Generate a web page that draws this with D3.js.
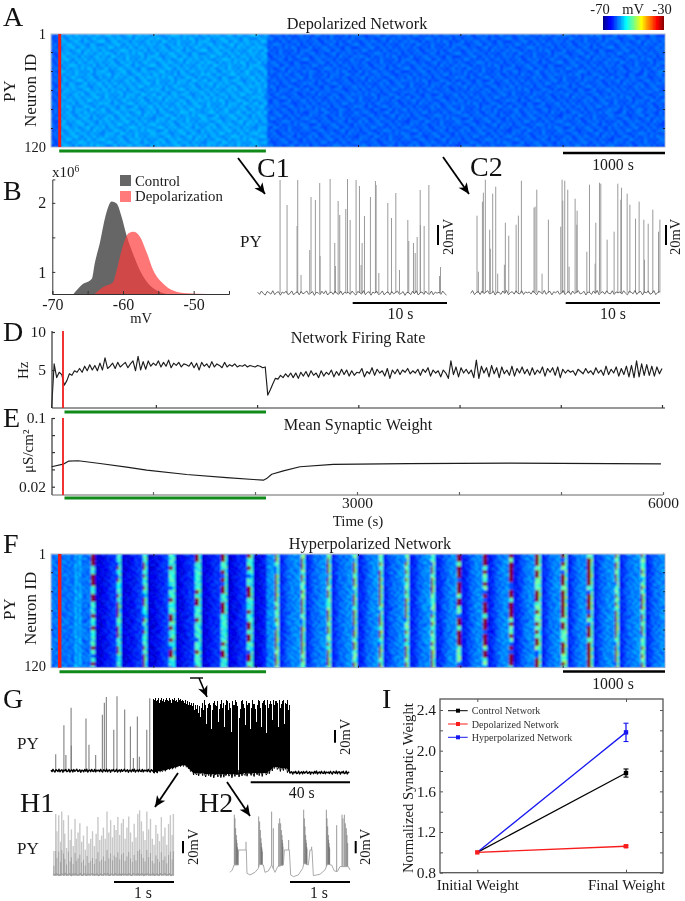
<!DOCTYPE html>
<html><head><meta charset="utf-8">
<script src="https://cdn.jsdelivr.net/npm/d3@7/dist/d3.min.js"></script>
<style>html,body{margin:0;padding:0;background:#fff}svg{display:block;filter:blur(.3px)}</style>
</head><body><svg id="chart" width="685" height="901"></svg>
<script>
// ---------- data ----------
const colorbarStops = [-70,-65.6,-65,-55,-45,-35,-30];
const colorbarColors = ["#00008f","#0000ff","#0000ff","#00ffff","#ffff00","#ff0000","#800000"];
const colorbarLabels = ["-70","mV","-30"];
const timeTicks = [0,1000,2000,3000,4000,5000,6000];
const neuronTicks = [1,20,40,60,80,100,120];
const stimOnset = 85, stimOffset = 2100;
// Panel A: mean membrane potential per epoch
const depolEpochStart = [0,85,2100];
const depolEpochMv = [-61.6,-58.9,-61.4];
// grain of the raster (tenths of a unit), read as a repeating speckle
const speckle = [
[3,-5,7,-2,-8,4,1,-6,9,-3,2,-7,5,0,-4,8,-1],
[-6,2,-1,8,-4,-9,6,3,-2,7,-5,4,-8,1,9,-3,0],
[5,-8,4,0,7,-3,-6,2,8,-1,-9,6,3,-7,-2,4,9],
[-2,9,-7,3,-5,6,8,-4,0,5,1,-3,-9,7,2,-6,-8],
[7,1,-3,-9,2,-1,5,9,-7,-4,8,0,-5,3,6,-2,4],
[-4,6,8,-5,0,3,-8,-2,4,9,-6,-1,7,-3,5,1,-7],
[1,-9,2,6,-3,7,4,-5,-1,3,-8,9,-2,5,-6,0,8],
[9,-3,-6,4,8,-7,0,5,2,-9,6,-4,1,-8,3,7,-5],
[-7,4,0,-2,5,9,-1,-8,6,1,-3,8,-6,2,-4,5,3],
[2,-5,9,7,-6,1,-4,3,-9,8,0,-7,4,6,-1,-3,5],
[6,0,-4,-8,3,-2,9,7,5,-6,4,2,-1,-5,8,-9,1],
[-3,8,5,1,-9,6,-7,0,3,-2,7,-5,9,4,-8,2,-6],
[4,-1,-8,9,6,-5,2,-3,7,0,-4,1,-6,8,-7,3,5]];
// Panel F: population burst times (s) and recovery of the mean potential between bursts
const hyperBursts = [404,652,909,1170,1424,1678,1932,2189,2444,2702,2962,3209,3470,3724,3981,4235,4489,4747,4999,5254,5512,5766];
const earlyEvents = [225,283];
const recoveryStim = [-67,-67,-66.5,-66,-65.5,-65,-64.5,-64,-63.5,-63];
const recoveryPost = [-65,-64.5,-63.5,-62.5,-61.5,-61,-60.5,-60,-60,-59.5];
// Panel B
const histControlMv = [-67,-65.85,-64.4,-64,-63.25,-62.5,-61.6,-60.9,-60.2,-59.5,-58.5,-57.6,-56.4,-55.2,-53.8];
const histControl = [.68,.81,.90,1.12,1.43,1.8,2.02,1.99,1.8,1.53,1.24,1.02,.83,.73,.68];
const histDepolMv = [-64,-62.8,-61.4,-60.9,-60.2,-59.2,-58.5,-57.6,-56.6,-55.7,-54.3,-52.9,-51,-48,-45.3];
const histDepol = [.68,.78,.85,1.02,1.31,1.56,1.58,1.51,1.27,1.02,.83,.73,.69,.68,.68];
const histMvTicks = [-70,-65,-60,-55,-50,-45];
const histCountTicks = [1,1.5,2];
// Panels C1, C2: spike times (s) and amplitudes (mV)
const c1Times = [2.37,3.11,4.24,4.17,4.59,5.51,5.65,6.11,6.57,6.61,7.67,8.16,8.52,8.69,8.23,9.33,9.51,9.79,10.42,10.78,11.06,10.95,11.31,11.94,12.47,12.54,12.83,13.78,14.17,14.63,15.02,15.9,16.0,16.5,16.68,16.89,17.21,17.24,17.63,18.13,19.26,19.36];
const c1Mv = [113,88,113,67,18,43,96,93,110,37,114,50,92,78,27,84,114,73,113,107,50,28,77,96,112,108,20,90,75,100,23,73,52,50,40,56,103,68,67,108,17,26];
const c2Times = [.67,.81,1.24,1.34,1.55,2.01,2.08,2.33,2.65,2.86,3.57,3.67,4.03,4.81,5.05,5.37,6.71,6.82,7.0,7.56,8.23,9.54,9.68,9.75,9.96,10.28,10.42,11.06,11.24,11.27,12.3,12.58,13.18,13.25,13.64,13.78,14.45,15.19,15.58,15.9,15.97,16.57,16.86,17.46,17.84,18.34,18.41,18.8,19.29,19.89,20.04];
const c2Mv = [77,21,91,100,113,63,44,99,106,19,28,70,57,68,77,112,85,86,103,19,73,66,113,92,112,103,26,94,68,82,41,108,29,70,110,109,53,61,109,93,105,99,88,74,91,73,33,69,83,61,73];
const restingNoise = [1.2,-2.1,3,-.8,-3.2,2.4,.6,-1.7,3.5,-2.6,.9,2,-3.4,1.5,-.4,2.8,-2.3,-1,3.2,-3,.3,1.8,-2.8,2.5,-1.4,.7,3.1,-2,-.6,2.2,-3.6,1,.4,-2.5,2.7,-1.2,3.4,-3.1,.2,1.6,-2.2,2.9,-.9,-1.9,3,-2.7,1.3,-.3];
// Panel D: network firing rate (Hz), evenly spaced over the recording
const firingRate = [0,5.8,4.0,4.7,4.4,3.0,3.6,4.5,4.3,4.9,
4.7,5.2,4.7,5.5,4.9,5.7,5.0,5.6,4.9,5.9,
5.0,6.6,5.2,5.5,5.9,5.2,6.0,5.4,5.7,6.0,
5.3,5.8,6.2,4.9,6.8,5.0,6.1,5.1,6.2,5.5,
5.9,5.6,6.2,5.4,6.0,5.5,6.3,5.3,5.9,5.6,
6.0,5.4,5.8,5.7,5.5,6.0,5.3,5.9,5.0,6.0,
5.5,5.8,5.3,6.1,5.4,5.8,5.6,5.3,6.0,5.4,
5.7,5.5,5.8,5.4,5.6,5.5,5.7,5.4,5.6,5.5,
5.4,5.6,5.5,5.3,5.4,
1.7,2.4,3.2,3.9,3.8,4.3,4.0,4.5,4.1,4.6,4.0,4.6,3.9,4.7,4.2,4.8,4.1,4.9,4.3,4.6,4.0,4.9,4.2,4.7,4.4,5.0,4.1,4.8,4.3,5.1,
4.4,5.0,4.2,4.9,4.3,4.7,4.6,5.2,4.1,4.8,
4.5,5.3,4.3,5.1,4.6,4.9,4.2,5.2,3.9,5.0,
4.5,5.1,4.4,5.0,4.7,5.2,4.5,4.9,4.6,5.1,
4.3,5.1,4.7,5.3,4.2,5.0,4.6,4.9,4.1,5.0,
4.6,3.9,6.2,4.4,5.4,4.1,5.3,4.6,5.1,4.5,
5.0,4.0,6.3,3.9,5.5,4.6,5.3,4.1,5.6,4.5,
5.3,4.0,5.4,4.5,5.0,4.3,5.5,4.2,5.2,4.6,
5.4,4.5,5.1,4.3,5.3,4.4,5.0,4.6,5.4,4.2,
5.2,4.7,5.3,4.3,5.4,4.0,5.1,4.6,5.0,4.7,
4.9,4.3,5.1,4.8,4.5,5.2,4.6,4.9,4.4,5.3,
4.6,5.0,4.3,5.5,4.4,5.1,4.6,5.4,4.2,5.2,
4.4,5.5,4.1,5.6,4.0,6.2,4.1,5.8,4.3,5.7,
4.3,5.5,4.2,5.4,4.5,5.2];
// Panel E: mean synaptic weight
const weightTimes = [6,120,170,268,480,742,938,1330,1722,2082,2114,2164,2278,2441,2768,3500,4500,5980];
const weightValues = [.0319,.0339,.0364,.0367,.0344,.0316,.0295,.0266,.0247,.0233,.0242,.0268,.029,.0319,.0337,.0344,.0347,.0341];
const weightTicks = [.1,.067,.045,.03,.02];
// Panel G
const gSpikeTimes = [1.9,5.2,6.0,8.1,8.2,14.1,15.3,18,20.7,21.5,22.3,25.3,26.6,29.7,32,33.2,34.8,35.6,38.6,39.8];
const gSpikeMv = [26,72,25,100,40,83,41,25,89,108,117,65,118,97,70,20,86,22,65,115];
const gBurstTop = [114,112,115,110,113,116,108,112,115,111,114,109,113,116,112,110,115,113,108,114,112,116,111,113,109,115,112,114,110,113,111,108,112,106,110,105,109,104,108,102,107,96,105,
98,104,92,103,86,100,108,96,112,104,74,100,106,108,104,66,96,108,110,104,102,110,78,98,106,112,100,108,70,104,112,110,96,108,100,62,110,104,105,112,109,102,84,98,110,112,106,100,72,110,104,108,108,66,100,112,106,106,98,78,104,112,110,100,70,108,110,112,104,60,112,100,106,110,106,80,112,104,110,110,108,70,112,100,106,110,112,74,108,106,112,96,104];
const gBurstEnvT = [41.2,46.6,54,55.4,57.4,66.8,73.5,87,89.7,95,96.1];
const gBurstEnvMv = [-3,2,10,4,-3,-6,-5,-3,6,4,-3];
// Panel H1
const h1Times = [.01,.04,.06,.09,.12,.14,.17,.19,.22,.25,.28,.30,.33,.36,.38,.41,.44,.47,.50,.53,.56,.59,.62,.65,.68,.71,.74,.77,.80,.83,.86,.89,.92,.95,.98,1.01,1.04,1.07,1.10,1.13,1.16,1.19,1.22,1.25,1.28,1.31,1.34,1.37,1.40,1.43,1.46,1.49,1.52,1.55,1.58,1.61,1.64,1.67,1.70,1.73,1.76,1.79,1.82,1.85,1.88,1.91,1.94,1.97,1.99];
const h1Mv = [40,100,72,98,55,104,90,68,45,98,58,75,48,92,60,70,85,55,65,42,80,52,60,72,48,68,95,58,65,78,60,104,70,90,62,82,74,95,66,85,92,60,78,96,70,55,84,62,100,106,88,72,58,104,75,92,60,50,82,68,56,95,64,78,50,84,98,66,100];
// Panel H2
const h2SlowT = [0,.039,.067,.139,.144,.272,.283,.333,.417,.472,.489,.556,.583,.639,.694,.75,.794,.889,.906,.989,1.011,1.056,1.139,1.211,1.233,1.306,1.333,1.367,1.389,1.5,1.583,1.622,1.694,1.739,1.789,1.833,1.972,2];
const h2SlowMv = [1.6,5.4,13.5,13.5,37.8,37.8,0,-2.7,1.6,8,14.6,13.5,1.6,3.8,13.5,1.6,10.8,13.5,37.8,37.8,-2.7,-5.4,-2.7,8,16.2,13.5,37.8,37.8,-3.8,-1.6,5.4,14.6,13.5,3.8,2.7,10.8,10.8,5.4];
const h2SpikeT = [.072,.083,.094,.106,.111,.117,.122,.128,.133,.267,
.478,.494,.506,.517,.522,.528,.533,.539,.694,.722,
.811,.828,.844,.856,.867,.872,.878,.883,.978,
1.228,1.239,1.25,1.261,1.267,1.272,1.278,1.283,1.361,
1.606,1.617,1.628,1.639,1.644,1.65,1.656,1.661,1.778,
1.867,1.883,1.906,1.922,1.939,1.95,1.961];
const h2SpikeMv = [95,89,73,62,54,49,43,40,38,51,
92,84,70,57,49,43,40,35,100,73,
81,89,81,70,62,54,49,43,54,
103,89,76,62,54,49,43,40,43,
103,89,76,62,54,49,43,40,78,
95,89,95,81,73,62,49];
// Panel I
const seriesNames = ["Control Network","Depolarized Network","Hyperpolarized Network"];
const seriesColors = ["#000000","#f81c1c","#1818f0"];
const weightCategories = ["Initial Weight","Final Weight"];
const initialWeights = [1,1,1];
const finalWeights = [1.78,1.06,2.18];
const finalErrors = [.04,.01,.09];
const normWeightTicks = [.8,1,1.2,1.4,1.6,1.8,2,2.2,2.4];

// ---------- helpers ----------
const FONT = "'Liberation Serif','Times New Roman',serif";
const INK = "#1a1a1a", RED = "#f01c1c", GREEN = "#108a18";
const svg = d3.select("#chart").attr("font-family", FONT);
const defs = svg.append("defs");
defs.append("filter").attr("id","soft").attr("x","-2%").attr("y","-3%").attr("width","104%").attr("height","106%")
  .append("feGaussianBlur").attr("stdDeviation",.85);
const head = defs.append("marker").attr("id","head").attr("viewBox","-12 -6 13 12").attr("refX",0).attr("refY",0)
  .attr("markerWidth",13).attr("markerHeight",12).attr("markerUnits","userSpaceOnUse").attr("orient","auto");
head.append("path").attr("d","M0,0L-11,-5L-8,0L-11,5Z").attr("fill","#000");

function text(x,y,s,size,o={}){
  const t = svg.append("text").attr("font-size",size).attr("fill",o.fill||INK).attr("text-anchor",o.anchor||"start");
  if(o.rotate){ t.attr("transform",`translate(${x},${y}) rotate(-90)`); } else { t.attr("x",x).attr("y",y); }
  t.text(s); return t;
}
function seg(x1,y1,x2,y2,color,w,arrow){
  const l = svg.append("line").attr("x1",x1).attr("y1",y1).attr("x2",x2).attr("y2",y2).attr("stroke",color).attr("stroke-width",w);
  if(arrow) l.attr("marker-end","url(#head)");
  return l;
}
function styleAxis(g,color,w){
  g.selectAll("path.domain").attr("stroke",color).attr("stroke-width",w);
  g.selectAll(".tick line").attr("stroke",color).attr("stroke-width",w);
  g.selectAll(".tick text").attr("font-family",FONT).attr("fill",INK);
  return g;
}
const heat = d3.scaleLinear().domain(colorbarStops).range(colorbarColors).clamp(true);
const grain = (r,c) => speckle[(r + 5*Math.floor(c/17)) % 13][(c + 7*Math.floor(r/13)) % 17];

function raster(id, top, bottom, cols, rows, valueFn){
  const x = d3.scaleLinear([0,6000],[51,665]);
  const y = d3.scaleLinear([1,120],[top,bottom]);
  const binT = 6000/cols, binN = 119/rows;
  const cells = [];
  for(let r=0;r<rows;r++) for(let c=0;c<cols;c++) cells.push({r,c,t:c*binT,n:1+r*binN});
  const clip = defs.append("clipPath").attr("id","clip"+id);
  clip.append("rect").attr("x",51).attr("y",top).attr("width",614).attr("height",bottom-top);
  svg.append("g").attr("clip-path",`url(#clip${id})`)
    .append("g").attr("filter","url(#soft)").attr("shape-rendering","crispEdges")
    .selectAll("rect").data(cells).join("rect")
      .attr("x",d=>x(d.t)).attr("y",d=>y(d.n))
      .attr("width",x(binT)-x(0)+.6).attr("height",y(1+binN)-y(1)+.6)
      .attr("fill",d=>heat(valueFn(d)));
  svg.append("rect").attr("x",51).attr("y",top).attr("width",614).attr("height",bottom-top)
    .attr("fill","none").attr("stroke","#8fa6c8").attr("stroke-width",.8);
  const bx = svg.append("g").attr("transform",`translate(0,${bottom})`)
    .call(d3.axisBottom(x).tickValues(timeTicks.slice(1,6)).tickSize(-2).tickFormat(""));
  bx.select(".domain").remove(); bx.selectAll("line").attr("stroke","#223");
  const tx = svg.append("g").attr("transform",`translate(0,${top})`)
    .call(d3.axisTop(x).tickValues(timeTicks.slice(1,6)).tickSize(-2).tickFormat(""));
  tx.select(".domain").remove(); tx.selectAll("line").attr("stroke","#223");
  const ly = svg.append("g").attr("transform","translate(51,0)")
    .call(d3.axisLeft(y).tickValues(neuronTicks.slice(1,6)).tickSize(-2).tickFormat(""));
  ly.select(".domain").remove(); ly.selectAll("line").attr("stroke","#223");
  const ry = svg.append("g").attr("transform","translate(665,0)")
    .call(d3.axisRight(y).tickValues(neuronTicks.slice(1,6)).tickSize(-2).tickFormat(""));
  ry.select(".domain").remove(); ry.selectAll("line").attr("stroke","#223");
  return x;
}
function spikes(times, mv, x, y, color, w, base, crisp){
  svg.append("g").attr("shape-rendering",crisp?"crispEdges":"auto").selectAll("line").data(times.map((t,i)=>[t,mv[i]])).join("line")
    .attr("x1",d=>x(d[0])).attr("x2",d=>x(d[0])).attr("y1",d=>y(base?base(d[0]):0)).attr("y2",d=>y(d[1]))
    .attr("stroke",color).attr("stroke-width",w);
}
function tracePath(pts, x, y, color, w){
  svg.append("path").datum(pts).attr("fill","none").attr("stroke",color).attr("stroke-width",w)
    .attr("stroke-linejoin","round").attr("d",d3.line().x(d=>x(d[0])).y(d=>y(d[1])));
}

// ---------- panel letters ----------
[["A",3,26],["B",3,200],["C1",257,177],["C2",470,176],["D",3,341],["E",3,427],["F",3,553],["G",3,708],["H1",20,812],["H2",199,812],["I",382,708]]
  .forEach(d=>text(d[1],d[2],d[0],28,{fill:"#111"}));

// ---------- A ----------
text(357,29,"Depolarized Network",16.3,{anchor:"middle"});
const depolBand = d3.scaleThreshold().domain(depolEpochStart.slice(1)).range(depolEpochMv);
const xA = raster("A",34,147,205,38,d=>depolBand(d.t)+grain(d.r,d.c)*.17);
seg(xA(stimOnset),34,xA(stimOnset),147,RED,3);
seg(xA(stimOnset)-.5,151,xA(stimOffset),151,GREEN,3);
text(46,39,"1",14.5,{anchor:"end"}); text(46,152,"120",14.5,{anchor:"end"});
text(15,102,"PY",17,{rotate:true}); text(36,127,"Neuron ID",17,{rotate:true});
const cbX = d3.scaleLinear([-70,-30],[603,664]);
svg.append("g").attr("shape-rendering","crispEdges").selectAll("rect").data(d3.range(-70,-30,.5)).join("rect")
  .attr("x",d=>cbX(d)).attr("y",16).attr("width",cbX(.5)-cbX(0)+.4).attr("height",14).attr("fill",d=>heat(d));
text(600,14,colorbarLabels[0],14.5,{anchor:"middle"});
text(633,14,colorbarLabels[1],14.5,{anchor:"middle"});
text(662,14,colorbarLabels[2],14.5,{anchor:"middle"});
seg(563,153,665,153,"#000",2.4);
text(613,170,"1000 s",15.8,{anchor:"middle"});
seg(238,158,265,194,"#000",1.8,true);
seg(443,157,469,194,"#000",1.8,true);

// ---------- B ----------
const xB = d3.scaleLinear([-70,-45],[52.3,229]);
const yB = d3.scaleLinear([.68,2.34],[294,179.4]);
const areaB = d3.area().x(d=>xB(d[0])).y0(yB(.68)).y1(d=>yB(d[1])).curve(d3.curveMonotoneX);
svg.append("path").datum(histControlMv.map((m,i)=>[m,histControl[i]])).attr("d",areaB).attr("fill","#666666");
svg.append("path").datum(histDepolMv.map((m,i)=>[m,histDepol[i]])).attr("d",areaB).attr("fill","#ff3c3c").attr("opacity",.7);
const axBx = svg.append("g").attr("transform","translate(0,294)")
  .call(d3.axisBottom(xB).tickValues(histMvTicks).tickSize(-3).tickPadding(5).tickFormat(d=>d%10===0?d:""));
styleAxis(axBx,"#333",1).selectAll("text").attr("font-size",16);
const axBy = svg.append("g").attr("transform","translate(52.3,0)")
  .call(d3.axisLeft(yB).tickValues(histCountTicks).tickSize(-3).tickPadding(6).tickFormat(d=>d%1===0?d:""));
styleAxis(axBy,"#333",1).selectAll("text").attr("font-size",16);
text(52,177,"x10",15).append("tspan").attr("dy",-5).attr("font-size",9.5).text("6");
text(141,323,"mV",14.5,{anchor:"middle"});
svg.append("rect").attr("x",120).attr("y",175).attr("width",11).attr("height",11).attr("fill","#666");
svg.append("rect").attr("x",120).attr("y",191).attr("width",11).attr("height",11).attr("fill","#ff7b7b");
text(135,186,"Control",14.8); text(135,201,"Depolarization",14.8);

// ---------- C1 / C2 ----------
const yC1 = d3.scaleLinear([0,100],[293,193]), yC2 = d3.scaleLinear([0,100],[292.7,192.7]);
const xC1 = d3.scaleLinear([0,20.05],[257.7,447]), xC2 = d3.scaleLinear([0,20.05],[470.7,660]);
spikes(c1Times,c1Mv,xC1,yC1,"#9a9a9a",1);
spikes(c2Times,c2Mv,xC2,yC2,"#9a9a9a",1);
const cStep = d3.range(0,20.05,.2);
tracePath(cStep.map((t,i)=>[t,restingNoise[i%48]*.65]),xC1,yC1,"#4a4a4a",.8);
tracePath(cStep.map((t,i)=>[t,restingNoise[(i+17)%48]*.65]),xC2,yC2,"#4a4a4a",.8);
text(240,247,"PY",17);
seg(352.7,303,447,303,"#000",2); seg(565.7,303,660,303,"#000",2);
text(400.5,319,"10 s",15.8,{anchor:"middle"}); text(613,319,"10 s",15.8,{anchor:"middle"});
seg(438,225,438,245,"#000",2); seg(666,225,666,245,"#000",2);
text(453,255,"20mV",14.5,{rotate:true}); text(680,255,"20mV",14.5,{rotate:true});

// ---------- D ----------
const xD = d3.scaleLinear([-30,6000],[51.6,662]);
const yD = d3.scaleLinear([0,10],[408,332]);
const stepD = 6030/(firingRate.length-1);
tracePath(firingRate.map((v,i)=>[-30+i*stepD,v]),xD,yD,"#1c1c1c",1.15);
const axDy = svg.append("g").attr("transform","translate(52,0)")
  .call(d3.axisLeft(yD).tickValues([5,10]).tickSize(-3).tickPadding(6));
styleAxis(axDy,"#333",1.2).selectAll("text").attr("font-size",15.5);
axDy.select(".domain").attr("d","M0,408V331");
const axDx = svg.append("g").attr("transform","translate(0,408)")
  .call(d3.axisBottom(xD).tickValues(timeTicks.slice(1)).tickSize(-3).tickFormat(""));
styleAxis(axDx,"#333",1.2); axDx.select(".domain").attr("d","M52,0H665");
text(28,379,"Hz",15,{rotate:true});
text(358,343,"Network Firing Rate",16.3,{anchor:"middle"});
seg(63,331,63,408,RED,1.8);
seg(64.5,412,266,412,GREEN,3);

// ---------- E ----------
const xE = d3.scaleLinear([0,6000],[51,663]);
const yE = d3.scaleLog([.02,.1],[486.7,418]);
tracePath(weightTimes.map((t,i)=>[t,weightValues[i]]),xE,yE,"#1c1c1c",1.15);
const axEy = svg.append("g").attr("transform","translate(52,0)")
  .call(d3.axisLeft(yE).tickValues(weightTicks).tickSize(-3).tickPadding(6).tickFormat(d=>(d===.1||d===.02)?d:""));
styleAxis(axEy,"#333",1.2).selectAll("text").attr("font-size",15.5);
axEy.select(".domain").attr("d","M0,495V418");
const axEx = svg.append("g").attr("transform","translate(0,495)")
  .call(d3.axisBottom(xE).tickValues(timeTicks.slice(1)).tickSize(-3).tickPadding(2).tickFormat(d=>(d===3000||d===6000)?d:""));
styleAxis(axEx,"#666",1.2).selectAll("text").attr("font-size",15.5);
axEx.select(".domain").attr("d","M52,0H663");
text(33,473,"μS/cm²",15,{rotate:true});
text(358,430,"Mean Synaptic Weight",16.3,{anchor:"middle"});
text(358,526,"Time (s)",15,{anchor:"middle"});
seg(63,418,63,495,RED,1.8);
seg(64.5,498,266,498,GREEN,3);

// ---------- F ----------
text(370,549,"Hyperpolarized Network",16.3,{anchor:"middle"});
const fValue = d=>{
  const g = grain(d.r,d.c), t = d.t;
  const idx = hyperBursts.findIndex(b=>t>=b-18 && t<b+24);
  if(idx>=0){
    const b = hyperBursts[idx], stim = t<stimOffset;
    const hot = grain(d.r-(d.r%2), idx*3);
    if(t<b+8 && hot>=(stim?3:-1)) return -28;
    if(t<b+8 && hot<=-8) return -62;
    return (stim?-54:-52)+g*.45;
  }
  if(earlyEvents.some(b=>Math.abs(t-b)<=10)) return -58+g*.25;
  const prev = hyperBursts.filter(b=>b<t).pop();
  if(prev===undefined) return -61+g*.32;
  const prof = t<stimOffset ? recoveryStim : recoveryPost;
  const k = Math.min(9,Math.floor((t-prev-24)/22));
  return prof[Math.max(k,0)]+g*.32;
};
const xF = raster("F",554,667.7,307,57,fValue);
seg(xF(stimOnset),554,xF(stimOnset),667.7,RED,3.5);
seg(59.5,671.7,266,671.7,GREEN,3);
text(46,559,"1",14.5,{anchor:"end"}); text(46,671,"120",14.5,{anchor:"end"});
text(15,620,"PY",17,{rotate:true}); text(36,645,"Neuron ID",17,{rotate:true});
seg(563,671.5,665,671.5,"#000",2.4);
text(613,689,"1000 s",15.8,{anchor:"middle"});

// ---------- G ----------
const xG = d3.scaleLinear([0,120.5],[51,350]);
const yG = d3.scaleLinear([0,100],[770.7,707.7]);
const envG = d3.scaleLinear(gBurstEnvT,gBurstEnvMv);
spikes(gSpikeTimes,gSpikeMv,xG,yG,"#808080",1.1);
const gRest = d3.range(0,41.4,.4), gRest2 = d3.range(96.2,120.5,.4);
tracePath(gRest.map((t,i)=>[t,restingNoise[i%48]*.7]),xG,yG,"#000",1.4);
tracePath(gRest2.map((t,i)=>[t,-3+restingNoise[(i+9)%48]*.7]),xG,yG,"#000",1.4);
const gStep = (96.1-41.2)/(gBurstTop.length-1);
const gBars = gBurstTop.map((v,i)=>[41.2+i*gStep,v]);
spikes(gBars.map(d=>d[0]),gBars.map(d=>d[1]),xG,yG,"#000",1,t=>envG(t),true);
tracePath(gBars.map((d,i)=>[d[0],envG(d[0])+restingNoise[i%48]*(d[0]>57?1.7:.7)]),xG,yG,"#000",1);
text(17,749,"PY",17);
seg(250.7,782.3,350,782.3,"#000",2);
text(301.7,798,"40 s",15.8,{anchor:"middle"});
seg(335,730,335,742.7,"#000",2);
text(350,755,"20mV",14.5,{rotate:true});
seg(190,678,203,678,"#000",1.4);
seg(199,678,207,697,"#000",1.6,true);
seg(178,773,155,807,"#000",1.8,true);
seg(227,782,250,816,"#000",1.8,true);

// ---------- H1 ----------
const xH1 = d3.scaleLinear([0,2],[53.3,174]);
const yH = d3.scaleLinear([0,100],[875.7,814]);
spikes(h1Times,h1Mv,xH1,yH,"#c8c8c8",1.4);
spikes(h1Times,h1Mv.map(v=>v*.4),xH1,yH,"#a2a2a2",1);
tracePath(d3.range(0,2,.025).map((t,i)=>[t,restingNoise[i%48]*.5+2]),xH1,yH,"#9a9a9a",1.2);
text(17,854,"PY",17);
seg(114,882,174,882,"#000",2);
text(143,898,"1 s",15.8,{anchor:"middle"});
seg(183,841,183,853.3,"#000",2);
text(198,865,"20mV",14.5,{rotate:true});

// ---------- H2 ----------
const xH2 = d3.scaleLinear([0,2],[230,350]);
const yH2 = d3.scaleLinear([0,100],[873.3,811.6]);
const slowH2 = d3.scaleLinear(h2SlowT,h2SlowMv);
spikes(h2SpikeT,h2SpikeMv,xH2,yH2,"#6e6e6e",.7,t=>slowH2(t));
tracePath(h2SlowT.map((t,i)=>[t,h2SlowMv[i]]),xH2,yH2,"#a0a0a0",.9);
seg(290,882,350,882,"#000",2);
text(319,898,"1 s",15.8,{anchor:"middle"});
seg(355.7,841,355.7,853.3,"#000",2);
text(370,865,"20mV",14.5,{rotate:true});

// ---------- I ----------
const xI = d3.scalePoint().domain(weightCategories).range([477.3,626]);
const yI = d3.scaleLinear([.8,2.4],[872.7,710]);
const iTop = 699, iL = 440, iR = 663, iB = 872.7;
svg.append("rect").attr("x",iL).attr("y",iTop).attr("width",iR-iL).attr("height",iB-iTop)
  .attr("fill","none").attr("stroke","#555").attr("stroke-width",1.3);
[["L",iL],["R",iR]].forEach(([s,px])=>{
  const ax = svg.append("g").attr("transform",`translate(${px},0)`)
    .call((s==="L"?d3.axisLeft:d3.axisRight)(yI).tickValues(normWeightTicks).tickSize(-3).tickPadding(4)
      .tickFormat(d=>(s==="L"&&Math.round(d*10)%4===0)?d3.format(".1f")(d):""));
  ax.select(".domain").remove();
  styleAxis(ax,"#555",1).selectAll("text").attr("font-size",15.5);
});
[["B",iB,d3.axisBottom],["T",iTop,d3.axisTop]].forEach(([s,py,fn])=>{
  const ax = svg.append("g").attr("transform",`translate(0,${py})`)
    .call(fn(xI).tickSize(-3).tickPadding(7).tickFormat(d=>s==="B"?d:""));
  ax.select(".domain").remove();
  styleAxis(ax,"#555",1).selectAll("text").attr("font-size",15);
});
[0,2,1].forEach(k=>{
  const c = seriesColors[k];
  const a = [weightCategories[0],initialWeights[k]], b = [weightCategories[1],finalWeights[k]];
  svg.append("line").attr("x1",xI(a[0])).attr("y1",yI(a[1])).attr("x2",xI(b[0])).attr("y2",yI(b[1])).attr("stroke",c).attr("stroke-width",1.3);
  svg.append("line").attr("x1",xI(b[0])).attr("x2",xI(b[0])).attr("y1",yI(b[1]-finalErrors[k])).attr("y2",yI(b[1]+finalErrors[k])).attr("stroke",c).attr("stroke-width",1.3);
  [-1,1].forEach(s=>svg.append("line").attr("x1",xI(b[0])-2.5).attr("x2",xI(b[0])+2.5).attr("y1",yI(b[1]+s*finalErrors[k])).attr("y2",yI(b[1]+s*finalErrors[k])).attr("stroke",c).attr("stroke-width",1.1));
  svg.append("rect").attr("x",xI(b[0])-2.2).attr("y",yI(b[1])-2.2).attr("width",4.4).attr("height",4.4).attr("fill",c);
});
svg.append("rect").attr("x",xI(weightCategories[0])-2.2).attr("y",yI(1)-2.2).attr("width",4.4).attr("height",4.4).attr("fill",seriesColors[1]);
text(413,873,"Normalized Synaptic Weight",14.7,{rotate:true});
const legendY = d3.scalePoint().domain(seriesNames).range([710.7,737.3]);
seriesNames.forEach((n,k)=>{
  const py = legendY(n);
  svg.append("line").attr("x1",448).attr("x2",467.7).attr("y1",py).attr("y2",py).attr("stroke",seriesColors[k]).attr("stroke-width",1);
  svg.append("rect").attr("x",456).attr("y",py-2).attr("width",4).attr("height",4).attr("fill",seriesColors[k]);
  text(471.7,py+3.5,n,10.1,{fill:"#333"});
});
</script></body></html>
